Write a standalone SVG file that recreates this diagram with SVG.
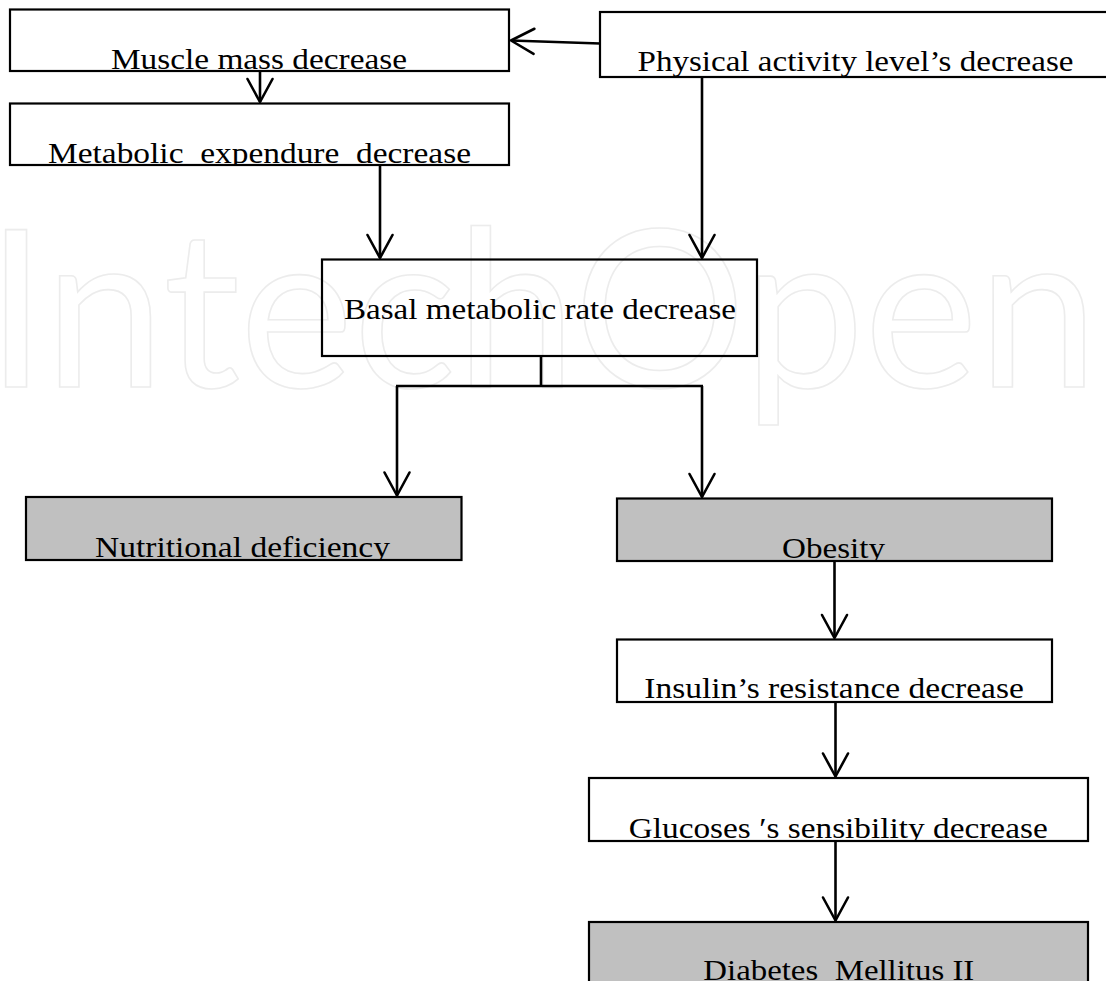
<svg xmlns="http://www.w3.org/2000/svg" width="1106" height="981" viewBox="0 0 1106 981">
<style>
.box{stroke:#000;stroke-width:2.2;fill:none}
.gray{fill:#c0c0c0}
.lbl{font-family:"Liberation Serif","Times New Roman",serif;font-size:30px;fill:#000}
.wm{font-family:Lato,"Open Sans",sans-serif;font-size:220px;fill:none;stroke:#ececec;stroke-width:1.6}
.con{fill:none;stroke:#000;stroke-width:2.6}
</style>
<defs>
<marker id="arr" markerUnits="userSpaceOnUse" viewBox="-26 -15 30 30" refX="0" refY="0" markerWidth="30" markerHeight="30" orient="auto" overflow="visible">
<path d="M-23,-12.5 L0,0 L-23,12.5" fill="none" stroke="#000" stroke-width="2.6" stroke-linejoin="round" stroke-linecap="round"/>
</marker>
<clipPath id="c-muscle"><rect x="10" y="9.5" width="499" height="60.5"/></clipPath>
<clipPath id="c-metab"><rect x="10" y="103.5" width="499" height="60.5"/></clipPath>
<clipPath id="c-phys"><rect x="600" y="12" width="512" height="64"/></clipPath>
<clipPath id="c-basal"><rect x="322" y="259.5" width="435" height="95.5"/></clipPath>
<clipPath id="c-nutr"><rect x="26" y="497" width="435.5" height="62"/></clipPath>
<clipPath id="c-obes"><rect x="617" y="498.5" width="435" height="61.5"/></clipPath>
<clipPath id="c-ins"><rect x="617" y="639.5" width="435" height="61.5"/></clipPath>
<clipPath id="c-glu"><rect x="589" y="778" width="499" height="62"/></clipPath>
<clipPath id="c-dia"><rect x="589" y="922" width="499" height="80"/></clipPath>
</defs>
<rect x="0" y="0" width="1106" height="981" fill="#fff"/>
<text class="wm" x="-14" y="387" textLength="1112" lengthAdjust="spacingAndGlyphs">IntechOpen</text>

<g id="connectors">
<path class="con" d="M600,43.5 L511,40.5" marker-end="url(#arr)"/>
<path class="con" d="M260,71 L260,102" marker-end="url(#arr)"/>
<path class="con" d="M380,165 L380,258" marker-end="url(#arr)"/>
<path class="con" d="M702,77 L702,258" marker-end="url(#arr)"/>
<path class="con" d="M541,356 L541,386 M396,386 L703,386"/>
<path class="con" d="M397,386 L397,495.5" marker-end="url(#arr)"/>
<path class="con" d="M702,386 L702,497" marker-end="url(#arr)"/>
<path class="con" d="M834.5,561 L834.5,638" marker-end="url(#arr)"/>
<path class="con" d="M835.5,702 L835.5,776.5" marker-end="url(#arr)"/>
<path class="con" d="M835.5,841 L835.5,920.5" marker-end="url(#arr)"/>
</g>

<g id="n-muscle">
<rect class="box" x="10" y="9.5" width="499" height="61.5"/>
<text class="lbl" x="111" y="69" textLength="296" lengthAdjust="spacingAndGlyphs" clip-path="url(#c-muscle)">Muscle mass decrease</text>
</g>
<g id="n-metabolic">
<rect class="box" x="10" y="103.5" width="499" height="61.5"/>
<text class="lbl" x="48" y="163.3" textLength="423" lengthAdjust="spacingAndGlyphs" clip-path="url(#c-metab)" xml:space="preserve">Metabolic  expendure  decrease</text>
</g>
<g id="n-physical">
<rect class="box" x="600" y="12" width="512" height="65"/>
<text class="lbl" x="637.5" y="70.7" textLength="436" lengthAdjust="spacingAndGlyphs" clip-path="url(#c-phys)">Physical activity level’s decrease</text>
</g>
<g id="n-basal">
<rect class="box" x="322" y="259.5" width="435" height="96.5"/>
<text class="lbl" x="344" y="319" textLength="392" lengthAdjust="spacingAndGlyphs" clip-path="url(#c-basal)">Basal metabolic rate decrease</text>
</g>
<g id="n-nutritional">
<rect class="box gray" x="26" y="497" width="435.5" height="63"/>
<text class="lbl" x="95" y="557" textLength="295" lengthAdjust="spacingAndGlyphs" clip-path="url(#c-nutr)">Nutritional deficiency</text>
</g>
<g id="n-obesity">
<rect class="box gray" x="617" y="498.5" width="435" height="62.5"/>
<text class="lbl" x="782" y="558.3" textLength="103" lengthAdjust="spacingAndGlyphs" clip-path="url(#c-obes)">Obesity</text>
</g>
<g id="n-insulin">
<rect class="box" x="617" y="639.5" width="435" height="62.5"/>
<text class="lbl" x="644.3" y="698.3" textLength="379.5" lengthAdjust="spacingAndGlyphs" clip-path="url(#c-ins)">Insulin’s resistance decrease</text>
</g>
<g id="n-glucoses">
<rect class="box" x="589" y="778" width="499" height="63"/>
<text class="lbl" x="628.7" y="837.7" textLength="419" lengthAdjust="spacingAndGlyphs" clip-path="url(#c-glu)">Glucoses ′s sensibility decrease</text>
</g>
<g id="n-diabetes">
<rect class="box gray" x="589" y="922" width="499" height="80"/>
<text class="lbl" x="703.3" y="979.5" textLength="271" lengthAdjust="spacingAndGlyphs" clip-path="url(#c-dia)" xml:space="preserve">Diabetes  Mellitus II</text>
</g>
</svg>
